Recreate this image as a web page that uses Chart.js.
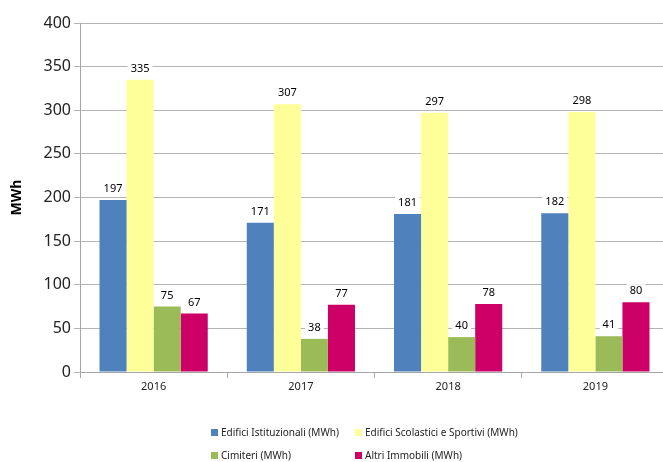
<!DOCTYPE html>
<html>
<head>
<meta charset="utf-8">
<script src="https://cdn.jsdelivr.net/npm/chart.js@4"></script>
<style>
  html, body { margin: 0; background: #fff; overflow: hidden; }
  #wrap { width: 669px; height: 462px; }
</style>
</head>
<body>
<div id="wrap"><canvas id="chart"></canvas></div>
<script>
const years = ['2016', '2017', '2018', '2019'];
const istituzionali = [197, 171, 181, 182];
const scolastici = [335, 307, 297, 298];
const cimiteri = [75, 38, 40, 41];
const altri = [67, 77, 78, 80];
const seriesNames = [
    'Edifici Istituzionali (MWh)',
    'Edifici Scolastici e Sportivi (MWh)',
    'Cimiteri (MWh)',
    'Altri Immobili (MWh)',
];
const seriesColors = ['#4F81BD', '#FFFF99', '#9BBB59', '#CC0066'];

const FONT = '"Noto Sans", "Open Sans", sans-serif';

// value labels with white box above each bar
const barLabels = {
    id: 'barLabels',
    afterDatasetsDraw(chart) {
        const ctx = chart.ctx;
        ctx.save();
        ctx.font = '11px ' + FONT;
        ctx.textAlign = 'center';
        ctx.textBaseline = 'middle';
        chart.data.datasets.forEach((ds, i) => {
            chart.getDatasetMeta(i).data.forEach((bar, j) => {
                const txt = String(ds.data[j]);
                const w = ctx.measureText(txt).width + 6;
                const cy = bar.y - 11;
                ctx.fillStyle = '#fff';
                ctx.fillRect(bar.x - w / 2, cy - 7, w, 14);
                ctx.fillStyle = '#000';
                ctx.fillText(txt, bar.x, cy);
            });
        });
        ctx.restore();
    }
};

// two-column legend at the bottom
const gridLegend = {
    id: 'gridLegend',
    afterDraw(chart) {
        const ctx = chart.ctx;
        ctx.save();
        ctx.font = '10px ' + FONT;
        ctx.textBaseline = 'middle';
        const cols = [211, 355];
        const rows = [433, 456];
        seriesNames.forEach((name, i) => {
            const x = cols[i % 2];
            const y = rows[Math.floor(i / 2)];
            ctx.fillStyle = seriesColors[i];
            ctx.fillRect(x, y - 4, 7, 7);
            ctx.fillStyle = '#222';
            ctx.fillText(name, x + 10, y);
        });
        ctx.restore();
    }
};

const datasets = [istituzionali, scolastici, cimiteri, altri].map((d, i) => ({
    label: seriesNames[i],
    data: d,
    backgroundColor: seriesColors[i],
    borderWidth: 0,
    barPercentage: 1,
    categoryPercentage: 0.735,
}));

new Chart(document.getElementById('chart'), {
    type: 'bar',
    data: { labels: years, datasets: datasets },
    options: {
        responsive: true,
        maintainAspectRatio: false,
        animation: false,
        layout: { padding: { top: 23, right: 0, left: 0, bottom: 0 } },
        plugins: {
            legend: { display: false },
            tooltip: { enabled: false },
        },
        scales: {
            x: {
                grid: { drawOnChartArea: false, color: '#A6A6A6', tickLength: 6 },
                border: { color: '#A6A6A6' },
                ticks: { color: '#222', font: { family: FONT, size: 11 }, padding: 2 },
                afterFit(scale) { scale.height = 90; },
            },
            y: {
                min: 0,
                max: 400,
                ticks: { stepSize: 50, color: '#222', font: { family: FONT, size: 16 }, padding: 3 },
                grid: { color: '#B4B4B4', tickLength: 6 },
                border: { color: '#A6A6A6' },
                title: {
                    display: true,
                    text: 'MWh',
                    color: '#000',
                    font: { family: FONT, size: 14, weight: 'bold' },
                    padding: { top: 9, bottom: 0 },
                },
                afterFit(scale) { scale.width = 80; },
            },
        },
    },
    plugins: [barLabels, gridLegend],
});
</script>
</body>
</html>
